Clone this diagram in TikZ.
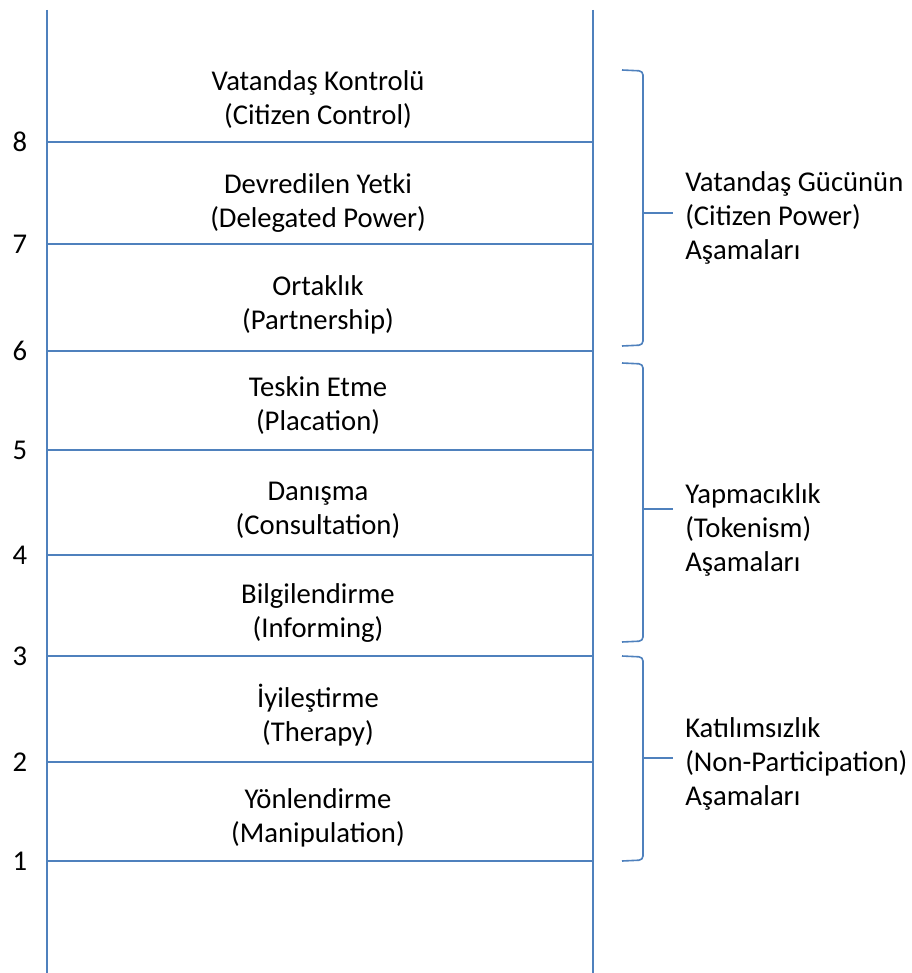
\documentclass[tikz,border=0pt]{standalone}
\usepackage{fontspec}
\setmainfont{Carlito}
\definecolor{ladderblue}{HTML}{4F81BD}
\tikzset{
  rail/.style={draw=ladderblue,line width=1.5pt},
  bracket/.style={draw=ladderblue,line width=1.2pt,rounded corners=3pt},
  rungtext/.style={align=center,inner sep=0pt},
  grouptext/.style={align=left,anchor=west,inner sep=0pt},
}
\begin{document}
\begin{tikzpicture}[x=0.75pt,y=-0.75pt,font=\fontsize{21.5}{25.5}\selectfont]
\useasboundingbox (0,0) rectangle (911,973);

% rails of the ladder
\draw[rail] (47,10) -- (47,973);
\draw[rail] (593,10) -- (593,973);

% rungs
\draw[rail] (47,142) -- (593,142);
\draw[rail] (47,244) -- (593,244);
\draw[rail] (47,351) -- (593,351);
\draw[rail] (47,450) -- (593,450);
\draw[rail] (47,555) -- (593,555);
\draw[rail] (47,656) -- (593,656);
\draw[rail] (47,762) -- (593,762);
\draw[rail] (47,861) -- (593,861);

% step numbers
\node (n8) at (20,142) {8};
\node (n7) at (20,244) {7};
\node (n6) at (20,351) {6};
\node (n5) at (20,450) {5};
\node (n4) at (20,555) {4};
\node (n3) at (20,656) {3};
\node (n2) at (20,762) {2};
\node (n1) at (20,861) {1};

% step names
\node[rungtext] (s8) at (318,100) {Vatandaş Kontrolü\\(Citizen Control)};
\node[rungtext] (s7) at (318,203) {Devredilen Yetki\\(Delegated Power)};
\node[rungtext] (s6) at (318,305) {Ortaklık\\(Partnership)};
\node[rungtext] (s5) at (318,406) {Teskin Etme\\(Placation)};
\node[rungtext] (s4) at (318,510) {Danışma\\(Consultation)};
\node[rungtext] (s3) at (318,613) {Bilgilendirme\\(Informing)};
\node[rungtext] (s2) at (318,715) {İyileştirme\\(Therapy)};
\node[rungtext] (s1) at (318,818) {Yönlendirme\\(Manipulation)};

% brackets
\draw[bracket] (622,70) -- (643,71) -- (643,345) -- (622,346);
\draw[bracket] (622,363) -- (643,364) -- (643,641) -- (622,642);
\draw[bracket] (622,656) -- (643,657) -- (643,860) -- (622,861);
\coordinate (b3) at (643,213);
\coordinate (b2) at (643,509);
\coordinate (b1) at (643,758);
\draw[bracket] (b3) -- ++(30,0);
\draw[bracket] (b2) -- ++(30,0);
\draw[bracket] (b1) -- ++(30,0);

% group names
\node[grouptext] (g3) at (685,218) {Vatandaş Gücünün\\(Citizen Power)\\Aşamaları};
\node[grouptext] (g2) at (685,530) {Yapmacıklık\\(Tokenism)\\Aşamaları};
\node[grouptext] (g1) at (685,764) {Katılımsızlık\\(Non-Participation)\\Aşamaları};
\end{tikzpicture}
\end{document}
